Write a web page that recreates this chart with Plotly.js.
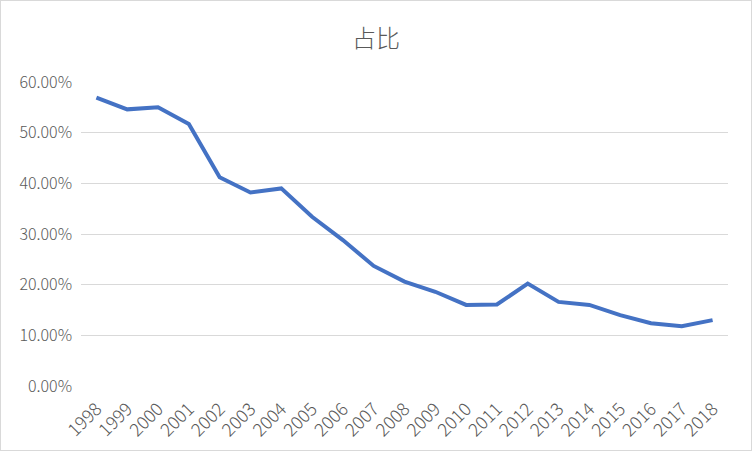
<!DOCTYPE html>
<html>
<head>
<meta charset="utf-8">
<script src="https://cdn.plot.ly/plotly-3.0.1.min.js"></script>
<style>
html,body{margin:0;padding:0;background:#fff;}
#wrap{position:relative;width:752px;height:451px;}
#chart{position:absolute;left:0;top:0;width:752px;height:451px;}
#frame{position:absolute;left:0;top:0;width:752px;height:451px;box-sizing:border-box;border:1px solid #d9d9d9;pointer-events:none;}
</style>
</head>
<body>
<div id="wrap"><div id="chart"></div><div id="frame"></div></div>
<script>
const years = ['1998','1999','2000','2001','2002','2003','2004','2005','2006','2007','2008','2009','2010','2011','2012','2013','2014','2015','2016','2017','2018'];
const shares = [0.569,0.546,0.550,0.517,0.412,0.382,0.390,0.334,0.288,0.237,0.206,0.186,0.160,0.161,0.202,0.166,0.160,0.140,0.124,0.118,0.130];
const yTicks = [0,0.1,0.2,0.3,0.4,0.5,0.6];
const titleText = '占比';

const font = '"Noto Sans CJK SC", "Noto Sans", sans-serif';
Plotly.newPlot('chart', [{
  x: years, y: shares, type: 'scatter', mode: 'lines',
  line: {color: '#4472C4', width: 4, shape: 'linear'},
  hoverinfo: 'skip'
}], {
  width: 752, height: 451,
  margin: {l: 81, r: 24, t: 82, b: 65},
  paper_bgcolor: '#fff', plot_bgcolor: '#fff',
  showlegend: false,
  title: {text: titleText, x: 0.5, xanchor: 'center', y: 0.915, yanchor: 'middle',
          font: {family: font, size: 24, color: '#595959', weight: 300}},
  xaxis: {type: 'category', range: [-0.5, 20.5], tickangle: -45, showgrid: false, showline: false, zeroline: false,
          ticks: '', ticklabelstandoff: 8,
          tickfont: {family: font, size: 18, color: '#595959', weight: 300}, fixedrange: true},
  yaxis: {range: [0, 0.6], tickvals: yTicks, tickformat: '.2%', showgrid: true, gridcolor: '#d9d9d9',
          gridwidth: 1, zeroline: false, showline: false, ticks: '', ticklabelstandoff: 8,
          tickfont: {family: font, size: 16, color: '#595959', weight: 300}, fixedrange: true}
}, {displayModeBar: false, staticPlot: true});
</script>
</body>
</html>
